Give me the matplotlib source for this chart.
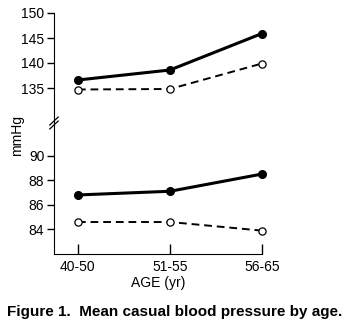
import matplotlib
matplotlib.use('Agg')
import matplotlib.pyplot as plt

plt.rcParams['font.family'] = ['Liberation Sans', 'DejaVu Sans']

# data
ages = ['40-50', '51-55', '56-65']
systolic_solid = [136.6, 138.6, 145.9]
systolic_open = [134.7, 134.8, 139.9]
diastolic_solid = [86.8, 87.1, 88.5]
diastolic_open = [84.6, 84.6, 83.9]
upper_ticks = [135, 140, 145, 150]
lower_ticks = [84, 86, 88, 90]

x = list(range(len(ages)))

fig = plt.figure(figsize=(3.5, 3.31), dpi=100)
left, width = 54 / 350, 208 / 350
ax_top = fig.add_axes([left, 1 - 123 / 331, width, 110 / 331])
ax_bot = fig.add_axes([left, 1 - 254 / 331, width, 131 / 331])

solid_kw = dict(color='black', lw=2.2, marker='o', ms=5.5, clip_on=False)
open_kw = dict(color='black', lw=1.4, ls=(0, (4, 2.5)), marker='o', ms=5.2,
               mfc='white', mec='black', mew=0.9, clip_on=False)

ax_top.plot(x, systolic_solid, **solid_kw)
ax_top.plot(x, systolic_open, **open_kw)
ax_bot.plot(x, diastolic_solid, **solid_kw)
ax_bot.plot(x, diastolic_open, **open_kw)

for ax in (ax_top, ax_bot):
    ax.set_xlim(-0.26, 2.0)
    ax.spines['top'].set_visible(False)
    ax.spines['right'].set_visible(False)
    ax.tick_params(axis='y', direction='out', length=5, width=1, labelsize=10, pad=2)
    ax.patch.set_visible(False)

ax_top.set_ylim(128, 150)
ax_top.set_yticks(upper_ticks)
ax_top.spines['bottom'].set_visible(False)
ax_top.set_xticks([])

ax_bot.set_ylim(82, 92.65)
ax_bot.set_yticks(lower_ticks)
ax_bot.set_xticks(x)
ax_bot.set_xticklabels(ages)
ax_bot.tick_params(axis='x', direction='in', length=7, width=1, labelsize=10, pad=4)
ax_bot.set_xlabel('AGE (yr)', fontsize=10, labelpad=2)

# break mark on the y axis
d = 0.012
for off in (-0.006, 0.006):
    fig.lines.append(plt.Line2D([left - d, left + d], [1 - 123 / 331 - d + off, 1 - 123 / 331 + d + off],
                                transform=fig.transFigure, color='black', lw=0.9))

fig.text(0.05, 0.59, 'mmHg', rotation=90, ha='center', va='center', fontsize=10)
fig.text(0.5, 0.057, 'Figure 1.  Mean casual blood pressure by age.', ha='center', va='center',
         fontsize=11, fontweight='bold')

fig.savefig('out.png', dpi=100)
